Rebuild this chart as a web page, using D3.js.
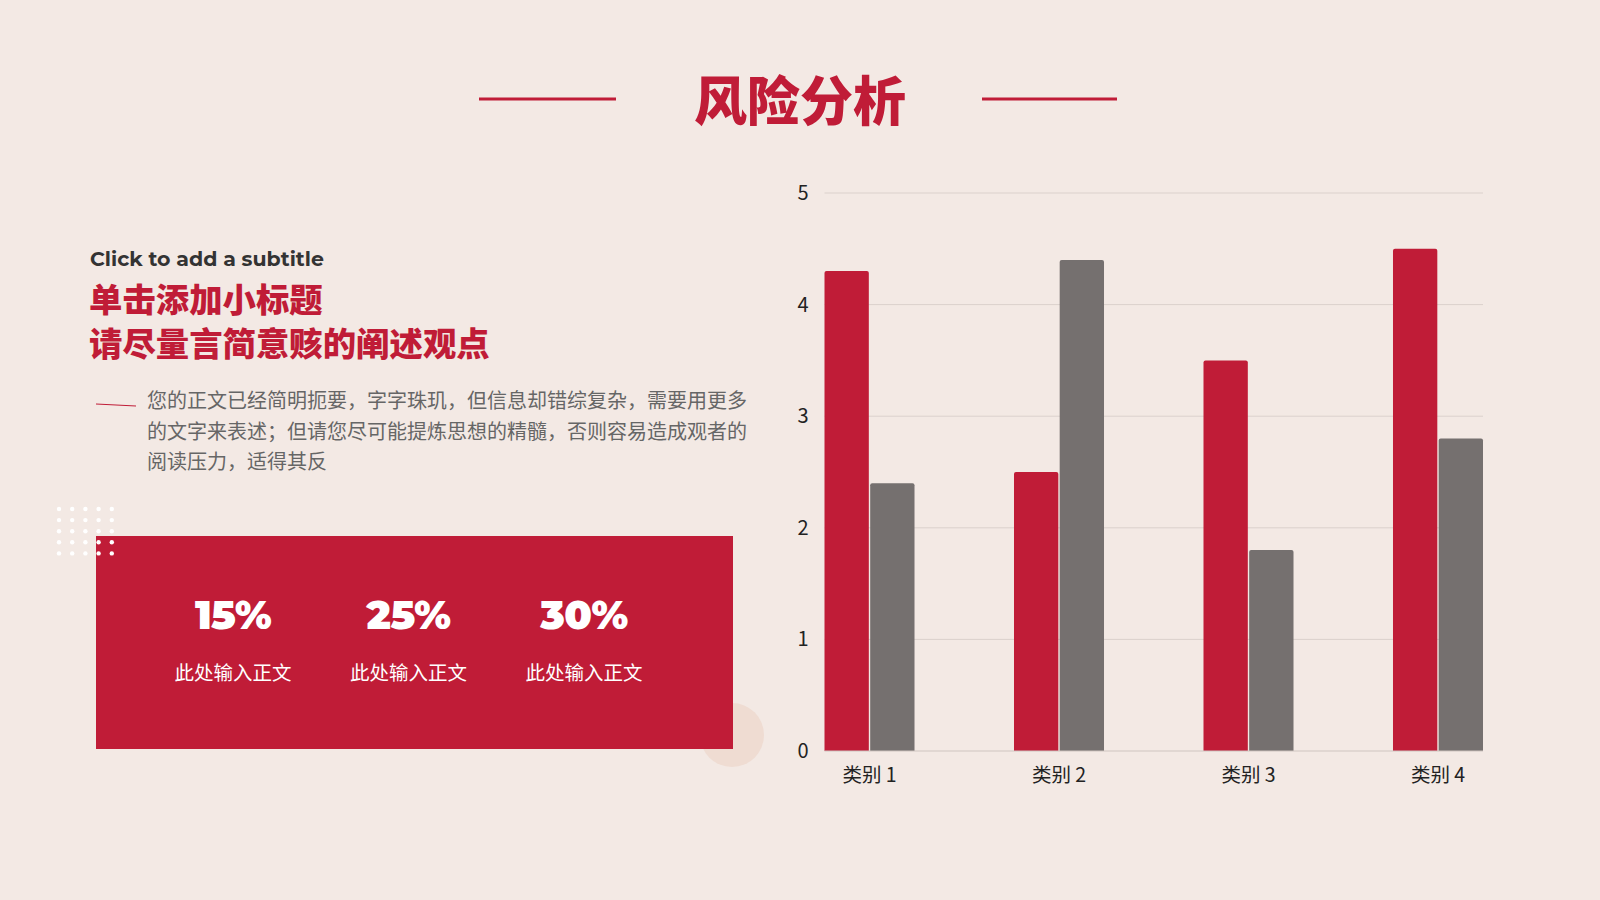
<!DOCTYPE html>
<html>
<head>
<meta charset="utf-8">
<script src="https://cdn.jsdelivr.net/npm/d3@7"></script>
<style>
  html, body { margin: 0; padding: 0; background: #f3e9e4; }
  svg { display: block; }
</style>
</head>
<body>
<div id="slide"></div>
<script>
// chart data
var categories = ['类别 1', '类别 2', '类别 3', '类别 4']
var series1 = [4.3, 2.5, 3.5, 4.5]
var series2 = [2.4, 4.4, 1.8, 2.8]
var yTicks = [0, 1, 2, 3, 4, 5]

// stat block
var statValues = ['15%', '25%', '30%']
var statLabels = ['此处输入正文', '此处输入正文', '此处输入正文']

var bodyLines = [
    '您的正文已经简明扼要，字字珠玑，但信息却错综复杂，需要用更多',
    '的文字来表述；但请您尽可能提炼思想的精髓，否则容易造成观者的',
    '阅读压力，适得其反'
]

var colors = {
    bg: '#f3e9e4',
    red: '#c01c37',
    gray: '#75706f',
    grid: '#dbd1cc',
    text: '#666666',
    dark: '#333333',
    peach: '#efdcd2'
}

var cjk = '"Noto Sans CJK SC", "Noto Sans", sans-serif'
var width = 1600, height = 900

var svg = d3.select('#slide').append('svg')
    .attr('width', width)
    .attr('height', height)

svg.append('rect')
    .attr('width', width)
    .attr('height', height)
    .attr('fill', colors.bg)

// title
svg.append('text')
    .attr('x', 800)
    .attr('y', 121)
    .attr('text-anchor', 'middle')
    .attr('font-family', cjk)
    .attr('font-weight', 900)
    .attr('font-size', 53)
    .attr('fill', colors.red)
    .text('风险分析')

svg.selectAll('.title-line')
    .data([[479, 616], [982, 1117]])
    .enter().append('line')
    .attr('x1', function (d) { return d[0] })
    .attr('x2', function (d) { return d[1] })
    .attr('y1', 99)
    .attr('y2', 99)
    .attr('stroke', colors.red)
    .attr('stroke-width', 3)

// left column texts
svg.append('text')
    .attr('x', 90)
    .attr('y', 266)
    .attr('font-family', 'Montserrat, Inter, "Open Sans", sans-serif')
    .attr('font-weight', 700)
    .attr('font-size', 20.5)
    .attr('fill', colors.dark)
    .text('Click to add a subtitle')

svg.selectAll('.subhead')
    .data(['单击添加小标题', '请尽量言简意赅的阐述观点'])
    .enter().append('text')
    .attr('x', 89)
    .attr('y', function (d, i) { return 312 + i * 44 })
    .attr('font-family', cjk)
    .attr('font-weight', 900)
    .attr('font-size', 33.4)
    .attr('fill', colors.red)
    .text(function (d) { return d })

svg.append('line')
    .attr('x1', 96).attr('y1', 404)
    .attr('x2', 136).attr('y2', 406)
    .attr('stroke', colors.red)
    .attr('stroke-width', 1)

svg.selectAll('.body-line')
    .data(bodyLines)
    .enter().append('text')
    .attr('x', 147)
    .attr('y', function (d, i) { return 408 + i * 30.6 })
    .attr('font-family', cjk)
    .attr('font-size', 20)
    .attr('fill', colors.text)
    .text(function (d) { return d })

// decorative circle behind the box
svg.append('circle')
    .attr('cx', 732)
    .attr('cy', 735)
    .attr('r', 32)
    .attr('fill', colors.peach)

// red stat box
svg.append('rect')
    .attr('x', 96)
    .attr('y', 536)
    .attr('width', 637)
    .attr('height', 213)
    .attr('fill', colors.red)

// dot grid
var dots = []
d3.range(5).forEach(function (r) {
    d3.range(5).forEach(function (c) {
        dots.push([59 + c * 13.2, 509 + r * 11.1])
    })
})
svg.selectAll('.dot')
    .data(dots)
    .enter().append('circle')
    .attr('cx', function (d) { return d[0] })
    .attr('cy', function (d) { return d[1] })
    .attr('r', 2.2)
    .attr('fill', '#ffffff')

var statX = d3.scalePoint()
    .domain(d3.range(statValues.length))
    .range([233, 584])

var stats = svg.selectAll('.stat')
    .data(statValues)
    .enter().append('g')
    .attr('transform', function (d, i) { return 'translate(' + statX(i) + ',0)' })

stats.append('text')
    .attr('y', 629)
    .attr('text-anchor', 'middle')
    .attr('font-family', 'Montserrat, Lato, Inter, sans-serif')
    .attr('font-weight', 900)
    .attr('font-size', 40)
    .attr('letter-spacing', -0.5)
    .attr('fill', '#ffffff')
    .text(function (d) { return d })

stats.append('text')
    .attr('y', 680)
    .attr('text-anchor', 'middle')
    .attr('font-family', cjk)
    .attr('font-size', 19.5)
    .attr('fill', '#ffffff')
    .text(function (d, i) { return statLabels[i] })

// bar chart
var plot = { left: 824.5, right: 1483, top: 193, bottom: 751 }

var x = d3.scaleBand()
    .domain(categories)
    .range([plot.left, plot.right])
    .paddingInner(0.525)
    .paddingOuter(0)

var xSub = d3.scaleBand()
    .domain([0, 1])
    .range([0, x.bandwidth()])
    .paddingInner(0.03)

var y = d3.scaleLinear()
    .domain([0, 5])
    .range([plot.bottom, plot.top])

var chart = svg.append('g')

chart.append('g')
    .selectAll('line')
    .data(yTicks.slice(1))
    .enter().append('line')
    .attr('x1', plot.left)
    .attr('x2', plot.right)
    .attr('y1', function (d) { return y(d) })
    .attr('y2', function (d) { return y(d) })
    .attr('stroke', colors.grid)
    .attr('stroke-width', 1)

var yAxis = chart.append('g')
    .attr('transform', 'translate(' + plot.left + ',0)')
    .call(d3.axisLeft(y).tickValues(yTicks).tickFormat(d3.format('d')).tickSize(0).tickPadding(16))
yAxis.select('.domain').remove()
yAxis.selectAll('text')
    .attr('font-family', cjk)
    .attr('font-size', 20)
    .attr('fill', '#222')

var groups = chart.selectAll('.group')
    .data(categories)
    .enter().append('g')
    .attr('transform', function (d) { return 'translate(' + x(d) + ',0)' })

groups.selectAll('path')
    .data(function (d, i) { return [series1[i], series2[i]] })
    .enter().append('path')
    .attr('d', function (v, j) {
        var x0 = xSub(j), w = xSub.bandwidth(), y0 = y(v), r = 2
        return 'M' + x0 + ',' + y(0) + 'V' + (y0 + r) +
            'Q' + x0 + ',' + y0 + ' ' + (x0 + r) + ',' + y0 +
            'H' + (x0 + w - r) +
            'Q' + (x0 + w) + ',' + y0 + ' ' + (x0 + w) + ',' + (y0 + r) +
            'V' + y(0) + 'Z'
    })
    .attr('fill', function (v, j) { return j === 0 ? colors.red : colors.gray })

chart.append('line')
    .attr('x1', plot.left)
    .attr('x2', plot.right)
    .attr('y1', y(0))
    .attr('y2', y(0))
    .attr('stroke', '#cfc5c0')
    .attr('stroke-width', 1)

var xAxis = chart.append('g')
    .attr('transform', 'translate(0,' + plot.bottom + ')')
    .call(d3.axisBottom(x).tickSize(0).tickPadding(17))
xAxis.select('.domain').remove()
xAxis.selectAll('text')
    .attr('font-family', cjk)
    .attr('font-size', 19.5)
    .attr('fill', '#222')
</script>
</body>
</html>
